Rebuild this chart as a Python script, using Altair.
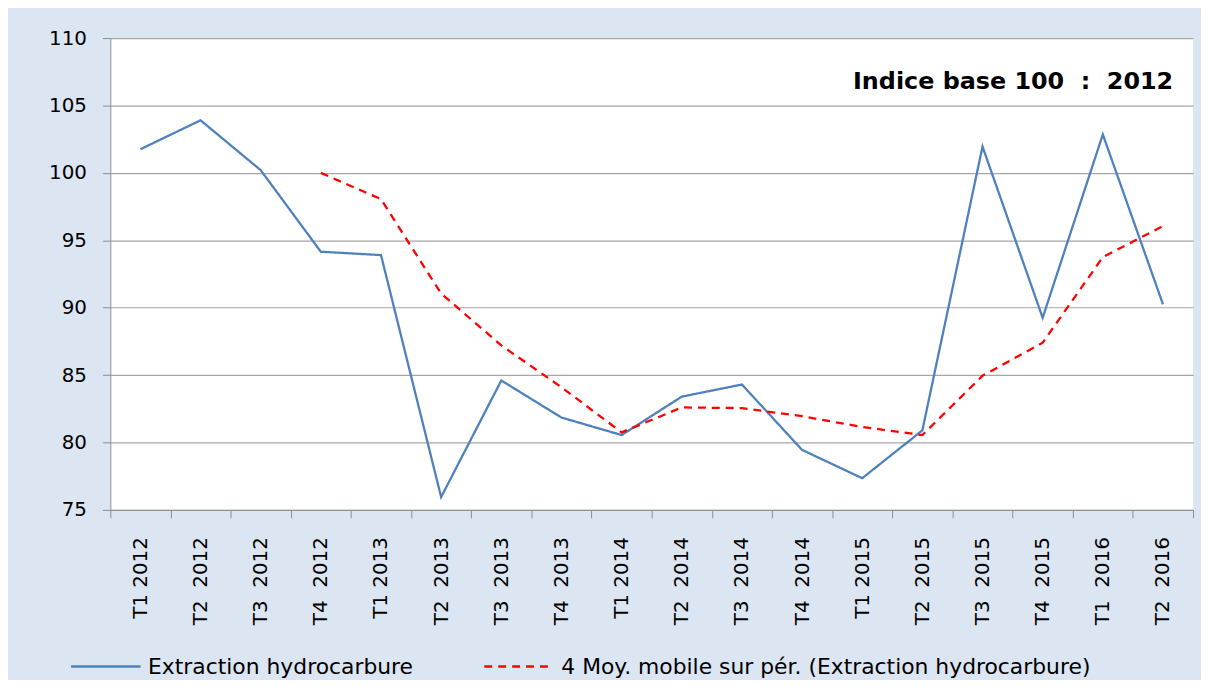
import altair as alt
import pandas as pd

NB = "\u00a0"
quarters = ["T1 2012", "T2" + NB * 2 + "2012", "T3" + NB * 2 + "2012", "T4" + NB * 2 + "2012",
            "T1 2013", "T2" + NB * 2 + "2013", "T3" + NB * 2 + "2013", "T4" + NB * 2 + "2013",
            "T1 2014", "T2" + NB * 2 + "2014", "T3" + NB * 2 + "2014", "T4" + NB * 2 + "2014",
            "T1 2015", "T2" + NB * 2 + "2015", "T3" + NB * 2 + "2015", "T4" + NB * 2 + "2015",
            "T1" + NB * 2 + "2016", "T2" + NB * 2 + "2016"]
extraction = [101.75, 103.9, 100.2, 94.15, 93.9, 75.95, 84.6, 81.85,
              80.55, 83.4, 84.3, 79.45, 77.35, 80.9, 101.95, 89.25,
              102.85, 90.25]
moving_avg = [None, None, None, 100.0, 98.05, 91.05, 87.2, 84.1,
              80.75, 82.6, 82.55, 81.95, 81.15, 80.55, 84.95, 87.4,
              93.75, 96.05]

s1 = "Extraction hydrocarbure"
s2 = "4 Moy. mobile sur pér. (Extraction hydrocarbure)"

rows = []
for q, v in zip(quarters, extraction):
    rows.append({"q": q, "v": v, "s": s1})
for q, v in zip(quarters, moving_avg):
    if v is not None:
        rows.append({"q": q, "v": v, "s": s2})
df = pd.DataFrame(rows)

FONT = "DejaVu Sans"

lines = alt.Chart(df).mark_line(strokeWidth=2.3).encode(
    x=alt.X("q:N", sort=quarters, title=None,
            scale=alt.Scale(paddingInner=0, paddingOuter=0),
            axis=alt.Axis(labelAngle=270, labelAlign="right", labelBaseline="middle",
                          labelPadding=19, tickSize=8, tickBand="extent",
                          tickColor="#8c8c8c", domainColor="#8c8c8c",
                          labelFontSize=20, labelColor="black", labelFont=FONT,
                          grid=False)),
    y=alt.Y("v:Q", title=None,
            scale=alt.Scale(domain=[75, 110], nice=False, zero=False),
            axis=alt.Axis(values=[75, 80, 85, 90, 95, 100, 105, 110],
                          tickSize=8, labelPadding=16, tickColor="#8c8c8c",
                          domainColor="#8c8c8c", gridColor="#a6a6a6",
                          gridWidth=1.2, labelFontSize=20, labelColor="black",
                          labelFont=FONT)),
    color=alt.Color("s:N", sort=[s1, s2],
                    scale=alt.Scale(domain=[s1, s2], range=["#4F81BD", "#FF0000"]),
                    legend=alt.Legend(title=None, orient="none", direction="horizontal",
                                      legendX=-41, legendY=596,
                                      symbolType="stroke", symbolSize=4900,
                                      symbolStrokeWidth=2.5, labelFontSize=22,
                                      labelFont=FONT, labelColor="black",
                                      labelOffset=6, columnPadding=66,
                                      labelLimit=800)),
    strokeDash=alt.StrokeDash("s:N", sort=[s1, s2],
                              scale=alt.Scale(domain=[s1, s2], range=[[1, 0], [8, 6]]),
                              legend=None),
)

note = alt.Chart(pd.DataFrame({"t": ["Indice base 100" + NB * 2 + ":" + NB * 2 + "2012"]})).mark_text(
    align="right", baseline="middle", fontSize=24, fontWeight="bold",
    font=FONT, color="black"
).encode(text="t:N", x=alt.value(1070), y=alt.value(44))

chart = alt.layer(lines, note).properties(
    width=1090, height=475,
    background="#DCE6F2",
    padding={"left": 103, "top": 28, "right": 8, "bottom": 169},
    autosize=alt.AutoSizeParams(type="none"),
).configure_view(fill="white", stroke=None)

chart.save("out.html", embed_options={"renderer": "svg", "actions": False})
